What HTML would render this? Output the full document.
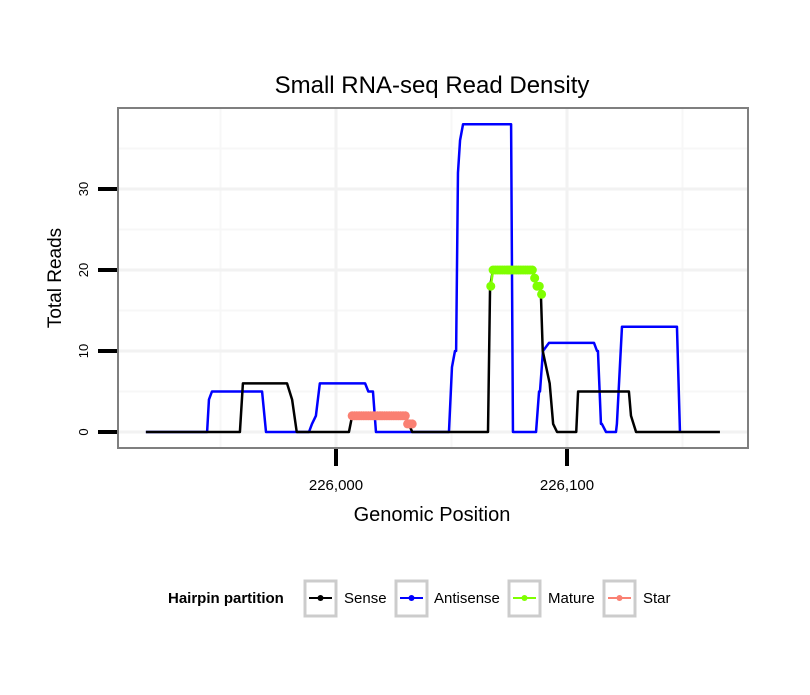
<!DOCTYPE html>
<html><head><meta charset="utf-8"><style>
body{margin:0;background:#fff;font-family:"Liberation Sans",sans-serif}
svg text{font-family:"Liberation Sans",sans-serif}
</style></head><body>
<svg id="chart" width="810" height="690">
<rect width="810" height="690" fill="#fff"/>
<text x="432" y="93" font-size="24" text-anchor="middle">Small RNA-seq Read Density</text>
<g id="grid"></g>
<g id="series"></g>
<rect x="118" y="108" width="630" height="340" fill="none" stroke="#7f7f7f" stroke-width="2"/>
<g id="axes"></g>
<text x="432" y="521" font-size="20" text-anchor="middle">Genomic Position</text>
<text transform="translate(61,278) rotate(-90)" font-size="19" text-anchor="middle">Total Reads</text>
<g>
<text x="168" y="603" font-size="15" font-weight="bold">Hairpin partition</text>
<g><rect x="305" y="581" width="31" height="35" fill="#fff" stroke="#ccc" stroke-width="3"/><line x1="309" y1="598" x2="332" y2="598" stroke="#000" stroke-width="2"/><circle cx="320.5" cy="598" r="3" fill="#000"/><text x="344" y="603" font-size="15">Sense</text></g>
<g><rect x="396" y="581" width="31" height="35" fill="#fff" stroke="#ccc" stroke-width="3"/><line x1="400" y1="598" x2="423" y2="598" stroke="#00f" stroke-width="2"/><circle cx="411.5" cy="598" r="3" fill="#00f"/><text x="434" y="603" font-size="15">Antisense</text></g>
<g><rect x="509" y="581" width="31" height="35" fill="#fff" stroke="#ccc" stroke-width="3"/><line x1="513" y1="598" x2="536" y2="598" stroke="#7fff00" stroke-width="2"/><circle cx="524.5" cy="598" r="3" fill="#7fff00"/><text x="548" y="603" font-size="15">Mature</text></g>
<g><rect x="604" y="581" width="31" height="35" fill="#fff" stroke="#ccc" stroke-width="3"/><line x1="608" y1="598" x2="631" y2="598" stroke="#fa8072" stroke-width="2"/><circle cx="619.5" cy="598" r="3" fill="#fa8072"/><text x="643" y="603" font-size="15">Star</text></g>
</g>
</svg>
<script>
const senseX=[225917.7,225958.4,225959.7,225978.8,225981,225983,226005.6,226007,226030,226031.5,226033,226065.8,226066.7,226068,226084,226085,226086,226087,226088,226088.7,226089.5,226091,226092.5,226094,226095.7,226104,226104.8,226126.8,226127.7,226129.9,226166.2];
const senseY=[0,0,6,6,4,0,0,2,2,1,0,0,18,20,20,20,19,18,18,17,10,8,6,1,0,0,5,5,2,0,0];
const antiX=[225917.7,225944.2,225945,225946.3,225968,225969.7,225988.3,225989.6,225991.3,225993,226012.6,226014,226016,226017.3,226048.9,226050.2,226051.5,226052,226052.8,226053.7,226055,226075.8,226076.6,226086.6,226087.9,226088.3,226089.6,226092.2,226111.7,226113,226113.4,226114.7,226115.1,226116.9,226121.2,226121.6,226123.8,226147.6,226148.9];
const antiY=[0,0,4,5,5,0,0,1,2,6,6,5,5,0,0,8,10,10,32,36,38,38,0,0,5,5,10,11,11,10,10,1,1,0,0,1,13,13,0];
const matureX=[226067,226068,226069,226070,226071,226072,226073,226074,226075,226076,226077,226078,226079,226080,226081,226082,226083,226084,226085,226086,226087,226088,226089];
const matureY=[18,20,20,20,20,20,20,20,20,20,20,20,20,20,20,20,20,20,20,19,18,18,17];
const starX=[226007,226008,226009,226010,226011,226012,226013,226014,226015,226016,226017,226018,226019,226020,226021,226022,226023,226024,226025,226026,226027,226028,226029,226030,226031,226032,226033];
const starY=[2,2,2,2,2,2,2,2,2,2,2,2,2,2,2,2,2,2,2,2,2,2,2,2,1,1,1];
const yTicks=[0,10,20,30];
const yMinor=[5,15,25,35];
const xTicks=[226000,226100];
const xTickLabels=["226,000","226,100"];
const xMinor=[225950,226050,226150];
const NS="http://www.w3.org/2000/svg";
function sx(v){return 336+(v-226000)*2.31;}
function sy(v){return 432-v*8.1;}
function mk(tag,attrs,parent){const e=document.createElementNS(NS,tag);for(const k in attrs)e.setAttribute(k,attrs[k]);parent.appendChild(e);return e;}
const grid=document.getElementById('grid'),axes=document.getElementById('axes'),ser=document.getElementById('series');
mk('rect',{x:118,y:108,width:630,height:340,fill:'#fff'},grid);
yMinor.forEach(v=>{const l=mk('line',{x1:118,x2:748,y1:sy(v),y2:sy(v),stroke:'#f7f7f7','stroke-width':2},grid);

});
xMinor.forEach(v=>{const l=mk('line',{x1:sx(v),x2:sx(v),y1:108,y2:448,stroke:'#f7f7f7','stroke-width':2},grid);

});
yTicks.forEach(v=>{const l=mk('line',{x1:118,x2:748,y1:sy(v),y2:sy(v),stroke:'#f2f2f2','stroke-width':3},grid);


const t=mk('line',{x1:98,x2:117,y1:sy(v),y2:sy(v),stroke:'#000','stroke-width':4},axes);


const tx=mk('text',{transform:`translate(88,${sy(v)}) rotate(-90)`,'font-size':13,'text-anchor':'middle'},axes);tx.textContent=v;

});
xTicks.forEach((v,i)=>{const l=mk('line',{x1:sx(v),x2:sx(v),y1:108,y2:448,stroke:'#f2f2f2','stroke-width':3},grid);


const t=mk('line',{x1:sx(v),x2:sx(v),y1:449,y2:466,stroke:'#000','stroke-width':4},axes);


const tx=mk('text',{x:sx(v),y:490,'font-size':15,'text-anchor':'middle'},axes);tx.textContent=xTickLabels[i];

});
function line(xs,ys,color,name){const p=mk('polyline',{points:xs.map((x,i)=>sx(x)+','+sy(ys[i])).join(' '),fill:'none',stroke:color,'stroke-width':2.5,'stroke-linejoin':'round'},ser);

}
function pts(xs,ys,color,name){xs.forEach((x,i)=>{const c=mk('circle',{cx:sx(x),cy:sy(ys[i]),r:4.5,fill:color},ser);

});}
line(antiX,antiY,'#0000ff','antisense-line');
line(senseX,senseY,'#000000','sense-line');
line(starX,starY,'#fa8072','star-line');
pts(starX,starY,'#fa8072','star-point');
line(matureX,matureY,'#7fff00','mature-line');
pts(matureX,matureY,'#7fff00','mature-point');
</script>
</body></html>
